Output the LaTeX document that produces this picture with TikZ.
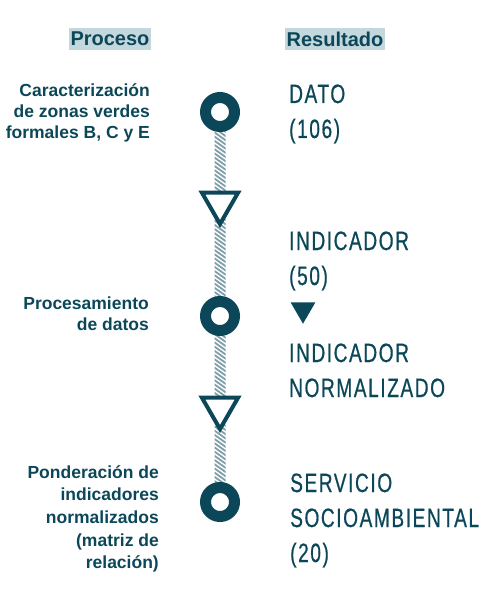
\documentclass[tikz,border=0pt]{standalone}
\usepackage{fontspec}
\setmainfont{Liberation Sans}
\newfontfamily\resfont[FakeStretch=0.72,LetterSpace=6,FakeBold=0.6]{Liberation Sans}
\usetikzlibrary{shapes.geometric,calc}
\definecolor{dark}{HTML}{0B4759}
\definecolor{hdrbg}{HTML}{C4D7DC}
\definecolor{hatch}{HTML}{7E9FA9}
\tikzset{
  hdr/.style={fill=hdrbg,text=dark,font=\bfseries\fontsize{20}{24}\selectfont,inner xsep=1.5pt,inner ysep=0pt,minimum height=22pt},
  proc/.style={text=dark,font=\bfseries\fontsize{17.5}{21}\selectfont,align=right,inner sep=0pt,anchor=base east},
  res/.style={text=dark,font=\resfont\fontsize{26.5}{35}\selectfont,align=left,inner sep=0pt,anchor=base west},
  ring/.style={circle,draw=dark,line width=11pt,fill=white,minimum size=29pt,inner sep=0pt},
  opentri/.style={regular polygon,regular polygon sides=3,shape border rotate=180,draw=dark,line width=4pt,fill=white,minimum size=42pt,inner sep=0pt},
  filltri/.style={regular polygon,regular polygon sides=3,shape border rotate=180,fill=dark,minimum size=28.5pt,inner sep=0pt},
  hatchstroke/.style={draw=hatch,line width=1.8pt}
}
\begin{document}
\begin{tikzpicture}[x=1pt,y=-1pt]
\useasboundingbox (0,0) rectangle (486,604);
% headers
\node[hdr] (hp) at (110,39) {Proceso};
\node[hdr] (hr) at (335,39) {Resultado};
% markers (positions)
\coordinate (c1pos) at (220,112);
\coordinate (c3pos) at (220,502);
% hatched connector
\begin{scope}
  \clip ($(c1pos)+(-5.5,0)$) rectangle ($(c3pos)+(5.5,0)$);
  \foreach \yy in {90,94.2,...,510}{
    \draw[hatchstroke] (208,\yy) -- (232,\yy+17);
  }
\end{scope}
% nodes on the line
\node[ring] (c1) at (c1pos) {};
\node[opentri] (t1) at (220,203) {};
\node[ring] (c2) at (220,316) {};
\node[opentri] (t2) at (220,408) {};
\node[ring] (c3) at (c3pos) {};
% process texts (anchor = baseline of last line)
\node[proc] (p1) at (150,139) {Caracterización\\de zonas verdes\\formales B, C y E};
\node[proc] (p2) at (149,330) {Procesamiento\\de datos};
\node[proc,font=\bfseries\fontsize{17.5}{22.7}\selectfont] (p3) at (159,568.8) {Ponderación de\\indicadores\\normalizados\\(matriz de\\relación)};
% results
\node[res] (r1) at (289,138) {DATO\\(106)};
\node[res] (r2) at (289,285) {INDICADOR\\(50)};
\node[filltri] (ft) at (303,309.5) {};
\node[res] (r3) at (289,397) {INDICADOR\\NORMALIZADO};
\node[res] (r4) at (290,562) {SERVICIO\\SOCIOAMBIENTAL\\(20)};
\end{tikzpicture}
\end{document}
